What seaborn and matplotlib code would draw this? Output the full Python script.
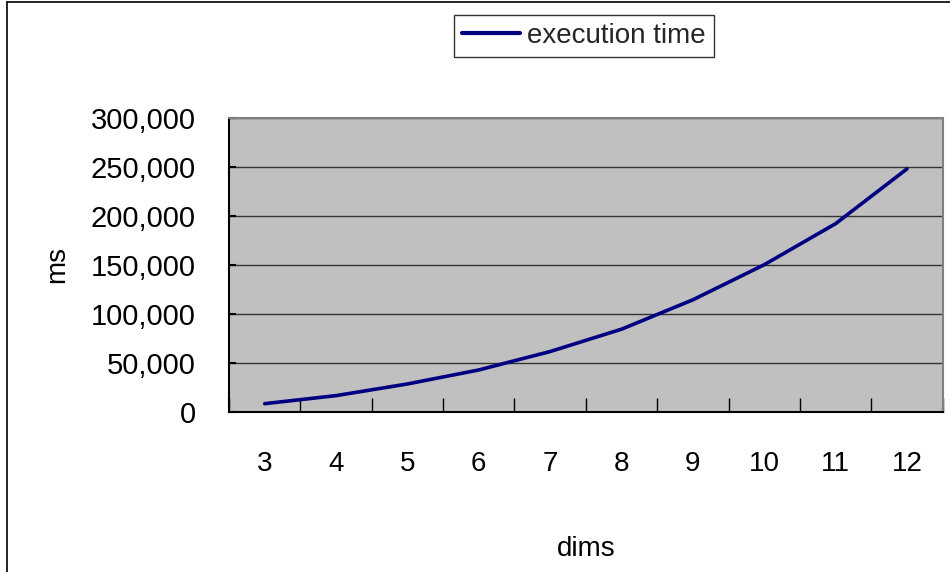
import matplotlib
matplotlib.use("Agg")
import matplotlib.pyplot as plt
from matplotlib.lines import Line2D
from matplotlib.ticker import FuncFormatter, FixedLocator
import seaborn as sns
import pandas as pd

# Execution time (ms) by number of dimensions
dims = [3, 4, 5, 6, 7, 8, 9, 10, 11, 12]
exec_ms = [8200, 16400, 28300, 42600, 61400, 84200, 114200, 150000, 191900, 247800]
y_ticks = [0, 50000, 100000, 150000, 200000, 250000, 300000]

df = pd.DataFrame({"dims": dims, "execution time": exec_ms})

sns.set_theme(style="white")
plt.rcParams["font.family"] = ["Liberation Sans", "DejaVu Sans"]

fig = plt.figure(figsize=(9.5, 5.72), dpi=100)
ax = fig.add_axes([229 / 950, 1 - 411.7 / 572, (942.7 - 229) / 950, (411.7 - 117.7) / 572])
ax.set_facecolor("#C0C0C0")

sns.lineplot(data=df, x="dims", y="execution time", ax=ax, color="#000080",
             linewidth=2.6, legend=False, zorder=3)

# category axis: labels centred, ticks on the boundaries
ax.set_xlim(dims[0] - 0.5, dims[-1] + 0.5)
ax.xaxis.set_major_locator(FixedLocator([d - 0.5 for d in dims] + [dims[-1] + 0.5]))
ax.xaxis.set_minor_locator(FixedLocator(dims))
ax.set_xticklabels([])
ax.set_xticklabels([str(d) for d in dims], minor=True)
ax.tick_params(axis="x", which="major", direction="in", length=10, width=1, color="black", bottom=True)
ax.tick_params(axis="x", which="minor", length=0, pad=28, labelsize=20, labelcolor="black")

ax.set_ylim(0, 300000)
ax.set_yticks(y_ticks)
ax.yaxis.set_major_formatter(FuncFormatter(lambda v, p: f"{int(v):,}"))
ax.tick_params(axis="y", which="major", direction="in", length=5, width=1.5, color="black",
               left=True, pad=24, labelsize=21, labelcolor="black")

ax.grid(axis="y", color="#333333", linewidth=1)
ax.set_axisbelow(True)

for side in ["top", "right"]:
    ax.spines[side].set_color("#808080")
    ax.spines[side].set_linewidth(1.5)
for side in ["left", "bottom"]:
    ax.spines[side].set_color("black")
    ax.spines[side].set_linewidth(1.5)

ax.set_xlabel("dims", fontsize=20, color="black", labelpad=43)
ax.set_ylabel("ms", fontsize=20, color="black", labelpad=15)

handle = Line2D([], [], color="#000080", linewidth=3)
leg = fig.legend([handle], ["execution time"], loc="center",
                 bbox_to_anchor=(584 / 950, 1 - 36 / 572), fontsize=20,
                 frameon=True, fancybox=False, shadow=False, handlelength=2.1,
                 handletextpad=0.25, borderpad=0.3, borderaxespad=0)
leg.get_frame().set_edgecolor("black")
leg.get_frame().set_linewidth(1)
leg.get_frame().set_facecolor("white")

# chart-area border (left and top edges)
fig.add_artist(Line2D([6.5 / 950, 6.5 / 950], [0, 1 - 1.5 / 572], transform=fig.transFigure,
                      color="black", linewidth=1.2))
fig.add_artist(Line2D([6.5 / 950, 1], [1 - 1.5 / 572, 1 - 1.5 / 572], transform=fig.transFigure,
                      color="black", linewidth=1.2))

fig.savefig("out.png", dpi=100, facecolor="white")
